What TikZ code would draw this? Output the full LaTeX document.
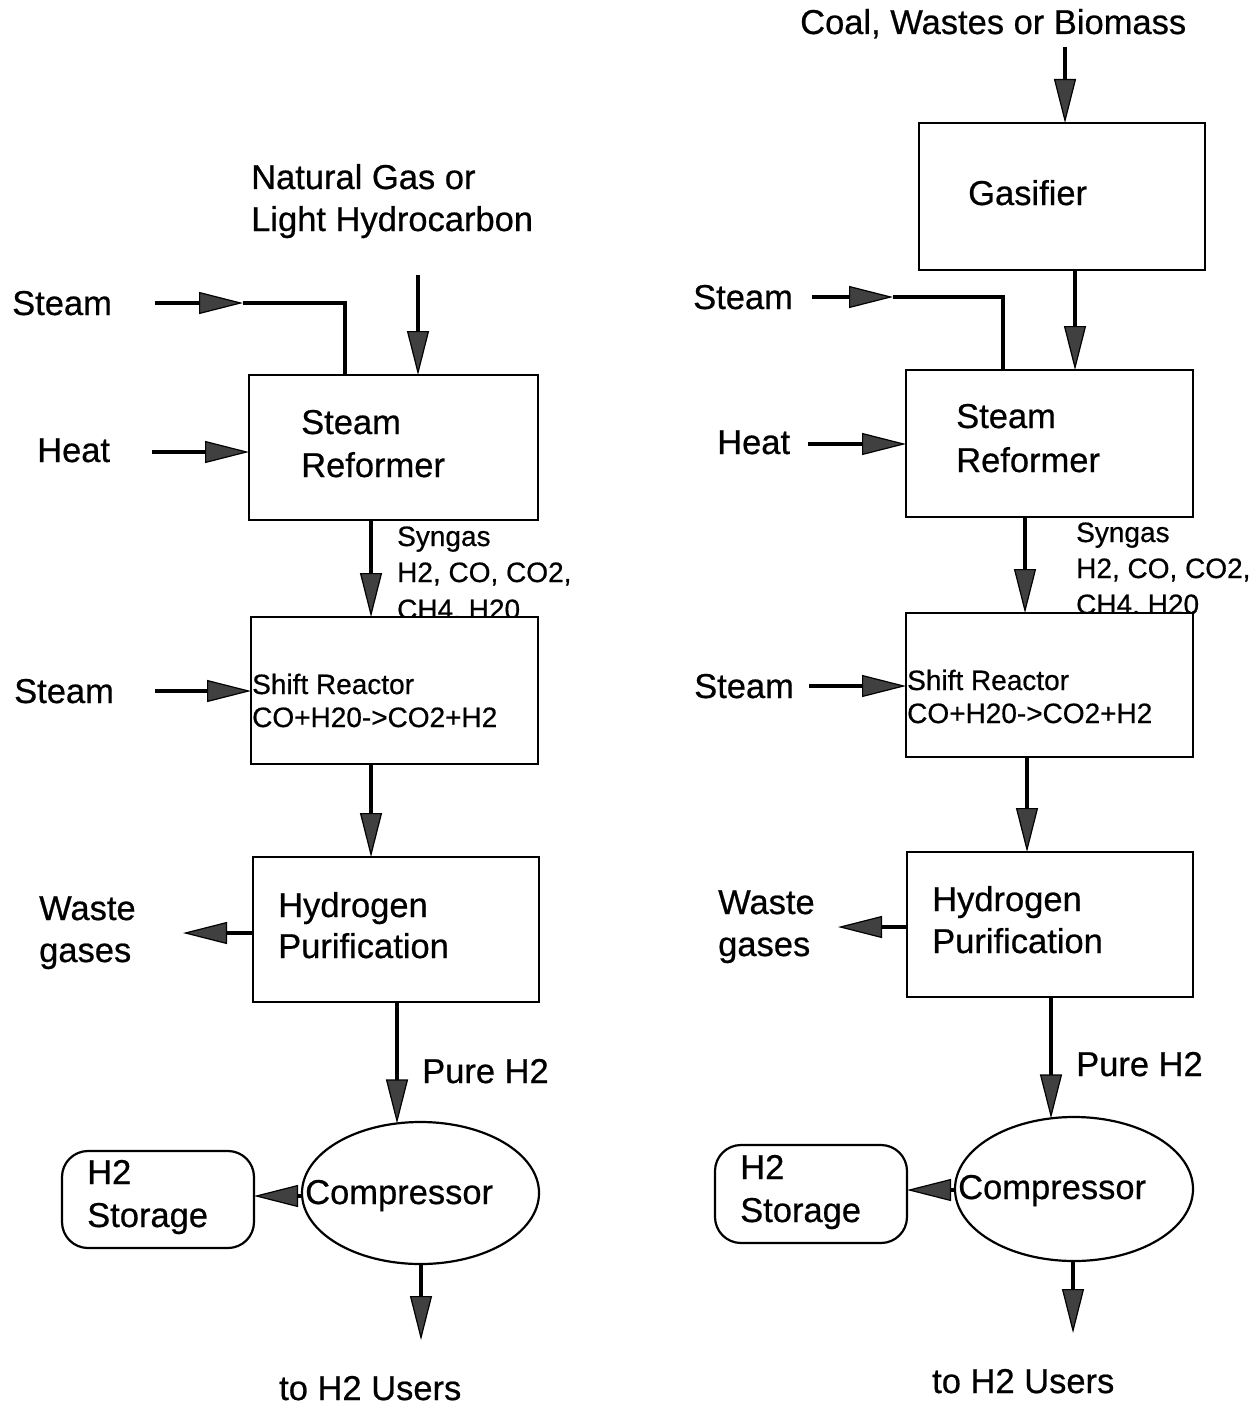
\documentclass[tikz,border=0pt]{standalone}
\usepackage{fontspec}
\setmainfont{Liberation Sans}[FakeBold=0.6,AutoFakeBold=0.6]
\usetikzlibrary{arrows.meta, shapes.geometric}
\begin{document}
\begin{tikzpicture}[x=1pt,y=-1pt,
  box/.style={draw, line width=2.6pt, fill=white, rectangle, inner sep=0pt, outer sep=0pt},
  oval/.style={draw, line width=2.2pt, ellipse, inner sep=0pt, outer sep=0pt},
  store/.style={draw, line width=2.2pt, rectangle, rounded corners=26pt, inner sep=0pt, outer sep=0pt},
  big/.style={anchor=base west, inner sep=0pt, font=\fontsize{34.5}{40}\bfseries},
  small/.style={anchor=base west, inner sep=0pt, font=\fontsize{28}{33}\bfseries},
  flow/.style={line width=3.6pt, -{Triangle[length=44pt, width=22pt, fill=black!75, line width=1.2pt]}},
  plain/.style={line width=3.6pt},
]
\useasboundingbox (0,0) rectangle (1259,1407);

% texts partly hidden by box tops
\node[small] (cha) at (397,619) {CH4, H20};
\node[small] (chb) at (1076,614) {CH4, H20};

% ---------- left column boxes ----------
\node[box, minimum width=289pt, minimum height=145pt] (sr1) at (393.5,447.5) {};
\node[box, minimum width=287pt, minimum height=147pt] (sh1) at (394.5,690.5) {};
\node[box, minimum width=286pt, minimum height=145pt] (hp1) at (396,929.5) {};
\node[oval, minimum width=237pt, minimum height=142pt] (cp1) at (420.5,1193) {};
\node[store, minimum width=192pt, minimum height=97pt] (st1) at (158,1199.5) {};

% ---------- right column boxes ----------
\node[box, minimum width=286pt, minimum height=147pt] (ga2) at (1062,196.5) {};
\node[box, minimum width=287pt, minimum height=147pt] (sr2) at (1049.5,443.5) {};
\node[box, minimum width=287pt, minimum height=144pt] (sh2) at (1049.5,685) {};
\node[box, minimum width=286pt, minimum height=145pt] (hp2) at (1050,924.5) {};
\node[oval, minimum width=238pt, minimum height=144pt] (cp2) at (1074,1189) {};
\node[store, minimum width=192pt, minimum height=98pt] (st2) at (811,1194) {};

% ---------- left texts ----------
\node[big] (nga) at (251,189) {Natural Gas or};
\node[big] (ngb) at (251,231) {Light Hydrocarbon};
\node[big] (lsa) at (12,315) {Steam};
\node[big] (lha) at (37,462) {Heat};
\node[big] (sra) at (301,434) {Steam};
\node[big] (srb) at (301,477) {Reformer};
\node[small] (sya) at (397,546) {Syngas};
\node[small] (syb) at (397,582) {H2, CO, CO2,};
\node[small] (sha) at (252,694) {Shift Reactor};
\node[small] (shb) at (252,727) {CO+H20->CO2+H2};
\node[big] (lsb) at (14,703) {Steam};
\node[big] (hpa) at (278,917) {Hydrogen};
\node[big] (hpb) at (278,958) {Purification};
\node[big] (wga) at (39,920) {Waste};
\node[big] (wgb) at (39,962) {gases};
\node[big] (pha) at (422,1083) {Pure H2};
\node[big] (cpa) at (305,1204) {Compressor};
\node[big] (sta) at (87,1184) {H2};
\node[big] (stb) at (87,1227) {Storage};
\node[big] (usa) at (279,1400) {to H2 Users};

% ---------- right texts ----------
\node[big] (cwa) at (800,34) {Coal, Wastes or Biomass};
\node[big] (gaa) at (968,205) {Gasifier};
\node[big] (rsa) at (693,309) {Steam};
\node[big] (rha) at (717,454) {Heat};
\node[big] (rra) at (956,428) {Steam};
\node[big] (rrb) at (956,472) {Reformer};
\node[small] (rya) at (1076,542) {Syngas};
\node[small] (ryb) at (1076,578) {H2, CO, CO2,};
\node[small] (rha2) at (907,690) {Shift Reactor};
\node[small] (rhb2) at (907,723) {CO+H20->CO2+H2};
\node[big] (rsb) at (694,698) {Steam};
\node[big] (rpa) at (932,911) {Hydrogen};
\node[big] (rpb) at (932,953) {Purification};
\node[big] (rwa) at (718,914) {Waste};
\node[big] (rwb) at (718,956) {gases};
\node[big] (rqa) at (1076,1076) {Pure H2};
\node[big] (rca) at (958,1199) {Compressor};
\node[big] (rta) at (740,1179) {H2};
\node[big] (rtb) at (740,1222) {Storage};
\node[big] (rua) at (932,1393) {to H2 Users};

% ---------- left connectors ----------
\coordinate (ng1) at (418,275);
\draw[flow] (ng1) -- (ng1 |- sr1.north);
\coordinate (s1a) at (155,303);
\coordinate (s1m) at (243,303);
\coordinate (s1b) at (345,303);
\draw[plain] (s1m) -- (s1b) -- (s1b |- sr1.north);
\draw[flow] (s1a) -- (s1m);
\coordinate (h1) at (152,452);
\draw[flow] (h1) -- (h1 -| sr1.west);
\draw[flow] ([xshift=-22.5pt]sr1.south) -- ([xshift=-23.5pt]sh1.north);
\coordinate (s1c) at (155,691);
\draw[flow] (s1c) -- (s1c -| sh1.west);
\draw[flow] ([xshift=-23.5pt]sh1.south) -- ([xshift=-25pt]hp1.north);
\coordinate (w1) at (183,933);
\draw[flow] (w1 -| hp1.west) -- (w1);
\coordinate (p1) at (397,1123.4);
\draw[flow] ([xshift=1pt]hp1.south) -- (p1);
\coordinate (c1) at (0,1196);
\draw[flow] (c1 -| cp1.west) -- (c1 -| st1.east);
\coordinate (u1) at (421,1340);
\draw[flow] (u1 |- cp1.south) -- (u1);

% ---------- right connectors ----------
\coordinate (co2) at (1065,47);
\draw[flow] (co2) -- (co2 |- ga2.north);
\draw[flow] ([xshift=13pt]ga2.south) -- ([xshift=25.5pt]sr2.north);
\coordinate (s2a) at (812,297);
\coordinate (s2m) at (893,297);
\coordinate (s2b) at (1003,297);
\draw[plain] (s2m) -- (s2b) -- (s2b |- sr2.north);
\draw[flow] (s2a) -- (s2m);
\coordinate (h2) at (808,444);
\draw[flow] (h2) -- (h2 -| sr2.west);
\draw[flow] ([xshift=-24.5pt]sr2.south) -- ([xshift=-24.5pt]sh2.north);
\coordinate (s2c) at (809,686);
\draw[flow] (s2c) -- (s2c -| sh2.west);
\draw[flow] ([xshift=-22.5pt]sh2.south) -- ([xshift=-23pt]hp2.north);
\coordinate (w2) at (838,927);
\draw[flow] (w2 -| hp2.west) -- (w2);
\coordinate (p2) at (1051,1118.4);
\draw[flow] ([xshift=1pt]hp2.south) -- (p2);
\coordinate (c2) at (0,1190);
\draw[flow] (c2 -| cp2.west) -- (c2 -| st2.east);
\coordinate (u2) at (1073,1333);
\draw[flow] (u2 |- cp2.south) -- (u2);
\end{tikzpicture}
\end{document}
